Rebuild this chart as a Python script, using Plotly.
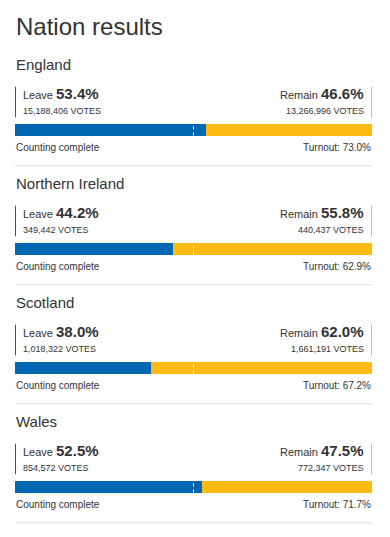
import plotly.graph_objects as go

nations = ["England", "Northern Ireland", "Scotland", "Wales"]
leave_pct = [53.4, 44.2, 38.0, 52.5]
remain_pct = [46.6, 55.8, 62.0, 47.5]
leave_votes = [15188406, 349442, 1018322, 854572]
remain_votes = [13266996, 440437, 1661191, 772347]
turnout = [73.0, 62.9, 67.2, 71.7]
status = ["Counting complete"] * 4
title = "Nation results"

BLUE = "#0068b3"
YELLOW = "#fdbb14"
TEXT = "#333333"
FONT = "Liberation Sans, Arial, sans-serif"

W, H = 390, 537
PITCH = 119.0
FIRST = 129.5
BAR_PX = 12.0

fig = go.Figure()
fig.add_trace(go.Bar(y=nations, x=leave_pct, orientation="h", marker=dict(color=BLUE, line=dict(width=0)),
                     width=BAR_PX / PITCH, name="Leave", hoverinfo="skip"))
fig.add_trace(go.Bar(y=nations, x=remain_pct, orientation="h", marker=dict(color=YELLOW, line=dict(width=0)),
                     width=BAR_PX / PITCH, name="Remain", hoverinfo="skip"))

top_val = -FIRST / PITCH
bot_val = (H - FIRST) / PITCH

shapes = []
annotations = []

def txt_ann(text, x, xanchor, nation, baseline_off, size, xshift=0, color=TEXT):
    # baseline_off: pixels below the bar centre (positive = down)
    annotations.append(dict(
        text=text, x=x, xref="x", y=nation, yref="y", xanchor=xanchor, yanchor="bottom",
        xshift=xshift, yshift=-baseline_off - 0.22 * size, showarrow=False,
        font=dict(family=FONT, size=size, color=color), borderpad=0))

for i, n in enumerate(nations):
    # 50% marker
    shapes.append(dict(type="line", xref="x", yref="y", x0=50, x1=50, ysizemode="pixel", yanchor=i,
                       y0=-BAR_PX / 2, y1=BAR_PX / 2, line=dict(color="white", width=1, dash="dot")))
    # vertical accent lines
    shapes.append(dict(type="line", xref="x", yref="y", xsizemode="pixel", xanchor=0, x0=0.5, x1=0.5,
                       ysizemode="pixel", yanchor=i, y0=12.2, y1=42.8, line=dict(color=BLUE, width=1)))
    shapes.append(dict(type="line", xref="x", yref="y", xsizemode="pixel", xanchor=100, x0=-0.5, x1=-0.5,
                       ysizemode="pixel", yanchor=i, y0=12.2, y1=42.8, line=dict(color=YELLOW, width=1)))
    # separator
    shapes.append(dict(type="line", xref="x", yref="y", x0=0, x1=100, ysizemode="pixel", yanchor=i,
                       y0=-36.2, y1=-36.2, line=dict(color="#dddddd", width=1)))

    txt_ann(n, 0, "left", n, -58.5, 15)
    txt_ann("Leave <b><span style='font-size:15px'>%.1f%%</span></b>" % leave_pct[i], 0, "left", n, -28.5, 11, xshift=7)
    txt_ann("Remain <b><span style='font-size:15px'>%.1f%%</span></b>" % remain_pct[i], 100, "right", n, -28.5, 11, xshift=-7)
    txt_ann("{:,} VOTES".format(leave_votes[i]), 0, "left", n, -14.5, 9, xshift=7)
    txt_ann("{:,} VOTES".format(remain_votes[i]), 100, "right", n, -14.5, 9, xshift=-7)
    txt_ann(status[i], 0, "left", n, 22, 10)
    txt_ann("Turnout: %.1f%%" % turnout[i], 100, "right", n, 22, 10)

annotations.append(dict(text=title, x=0, xref="x", y=0, yref="paper", yanchor="bottom", xanchor="left",
                        yshift=H - 36 - 0.22 * 24, showarrow=False, borderpad=0,
                        font=dict(family=FONT, size=24, color=TEXT)))

fig.update_layout(
    width=W, height=H, margin=dict(l=15, r=18, t=0, b=0),
    paper_bgcolor="white", plot_bgcolor="white", barmode="stack", bargap=0,
    showlegend=False, shapes=shapes, annotations=annotations,
    xaxis=dict(range=[0, 100], visible=False, fixedrange=True),
    yaxis=dict(range=[bot_val, top_val], visible=False, fixedrange=True, type="category",
               categoryorder="array", categoryarray=nations),
)

fig.write_html("out.html", config={"displayModeBar": False},
               post_script="document.body.style.margin='0';document.body.style.overflow='hidden';")
